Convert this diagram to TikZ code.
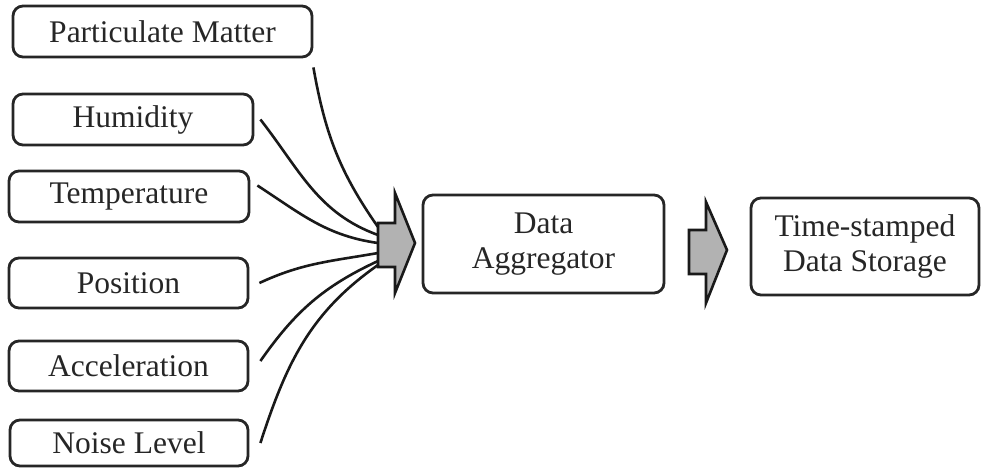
\documentclass[tikz,border=0pt]{standalone}
\usepackage{fontspec}
\setmainfont{Liberation Serif}
\begin{document}
\begin{tikzpicture}[x=1pt,y=1pt,
  box/.style={draw=black!85,line width=2.8pt,rounded corners=10pt,inner sep=0pt,
    align=center,text=black!85,font=\fontsize{31.5}{35}\selectfont},
  wire/.style={draw=black!90,line width=2.6pt},
  blockarrow/.style={draw=black!90,line width=2.6pt,fill=black!30,line join=miter}]
\useasboundingbox (0,0) rectangle (982,-469);
\node[box,minimum width=299pt,minimum height=51pt] (pm) at (162.5,-31.5) {Particulate Matter};
\node[box,minimum width=240pt,minimum height=51pt] (hum) at (133,-119.5) {Humidity};
\node[box,minimum width=240pt,minimum height=51pt] (temp) at (129,-196.5) {Temperature};
\node[box,minimum width=239pt,minimum height=50pt] (pos) at (128.5,-283) {Position};
\node[box,minimum width=239pt,minimum height=50pt] (acc) at (128.5,-366) {Acceleration};
\node[box,minimum width=238pt,minimum height=46pt] (noise) at (129,-443) {Noise Level};
\node[box,minimum width=241pt,minimum height=98pt] (agg) at (543.5,-244) {Data\\Aggregator};
\node[box,minimum width=228pt,minimum height=97pt] (store) at (865,-246.5) {Time-stamped\\Data Storage};
% block arrows
\draw[blockarrow] (378,-223) -- (395,-223) -- (395,-193) -- (415,-243) -- (395,-293) -- (395,-267) -- (378,-267) -- cycle;
\coordinate (a1) at (378,-245);
\draw[blockarrow] (689,-230) -- (706,-230) -- (706,-202) -- (727,-250) -- (706,-303) -- (706,-274) -- (689,-274) -- cycle;
% wires
\draw[wire] ([shift={(0pt,-9pt)}]pm.south east) to[out=-80,in=125] ([yshift=18pt]a1);
\draw[wire] ([xshift=6pt]hum.east) to[out=-52,in=160] ([yshift=10pt]a1);
\draw[wire] ([shift={(7pt,11pt)}]temp.east) to[out=-33,in=172] ([yshift=2pt]a1);
\draw[wire] ([xshift=10pt]pos.east) to[out=25,in=190] ([yshift=-8pt]a1);
\draw[wire] ([shift={(11pt,5pt)}]acc.east) to[out=55,in=205] ([yshift=-16pt]a1);
\draw[wire] ([xshift=11pt]noise.east) to[out=72,in=215] ([yshift=-20pt]a1);
\end{tikzpicture}
\end{document}
